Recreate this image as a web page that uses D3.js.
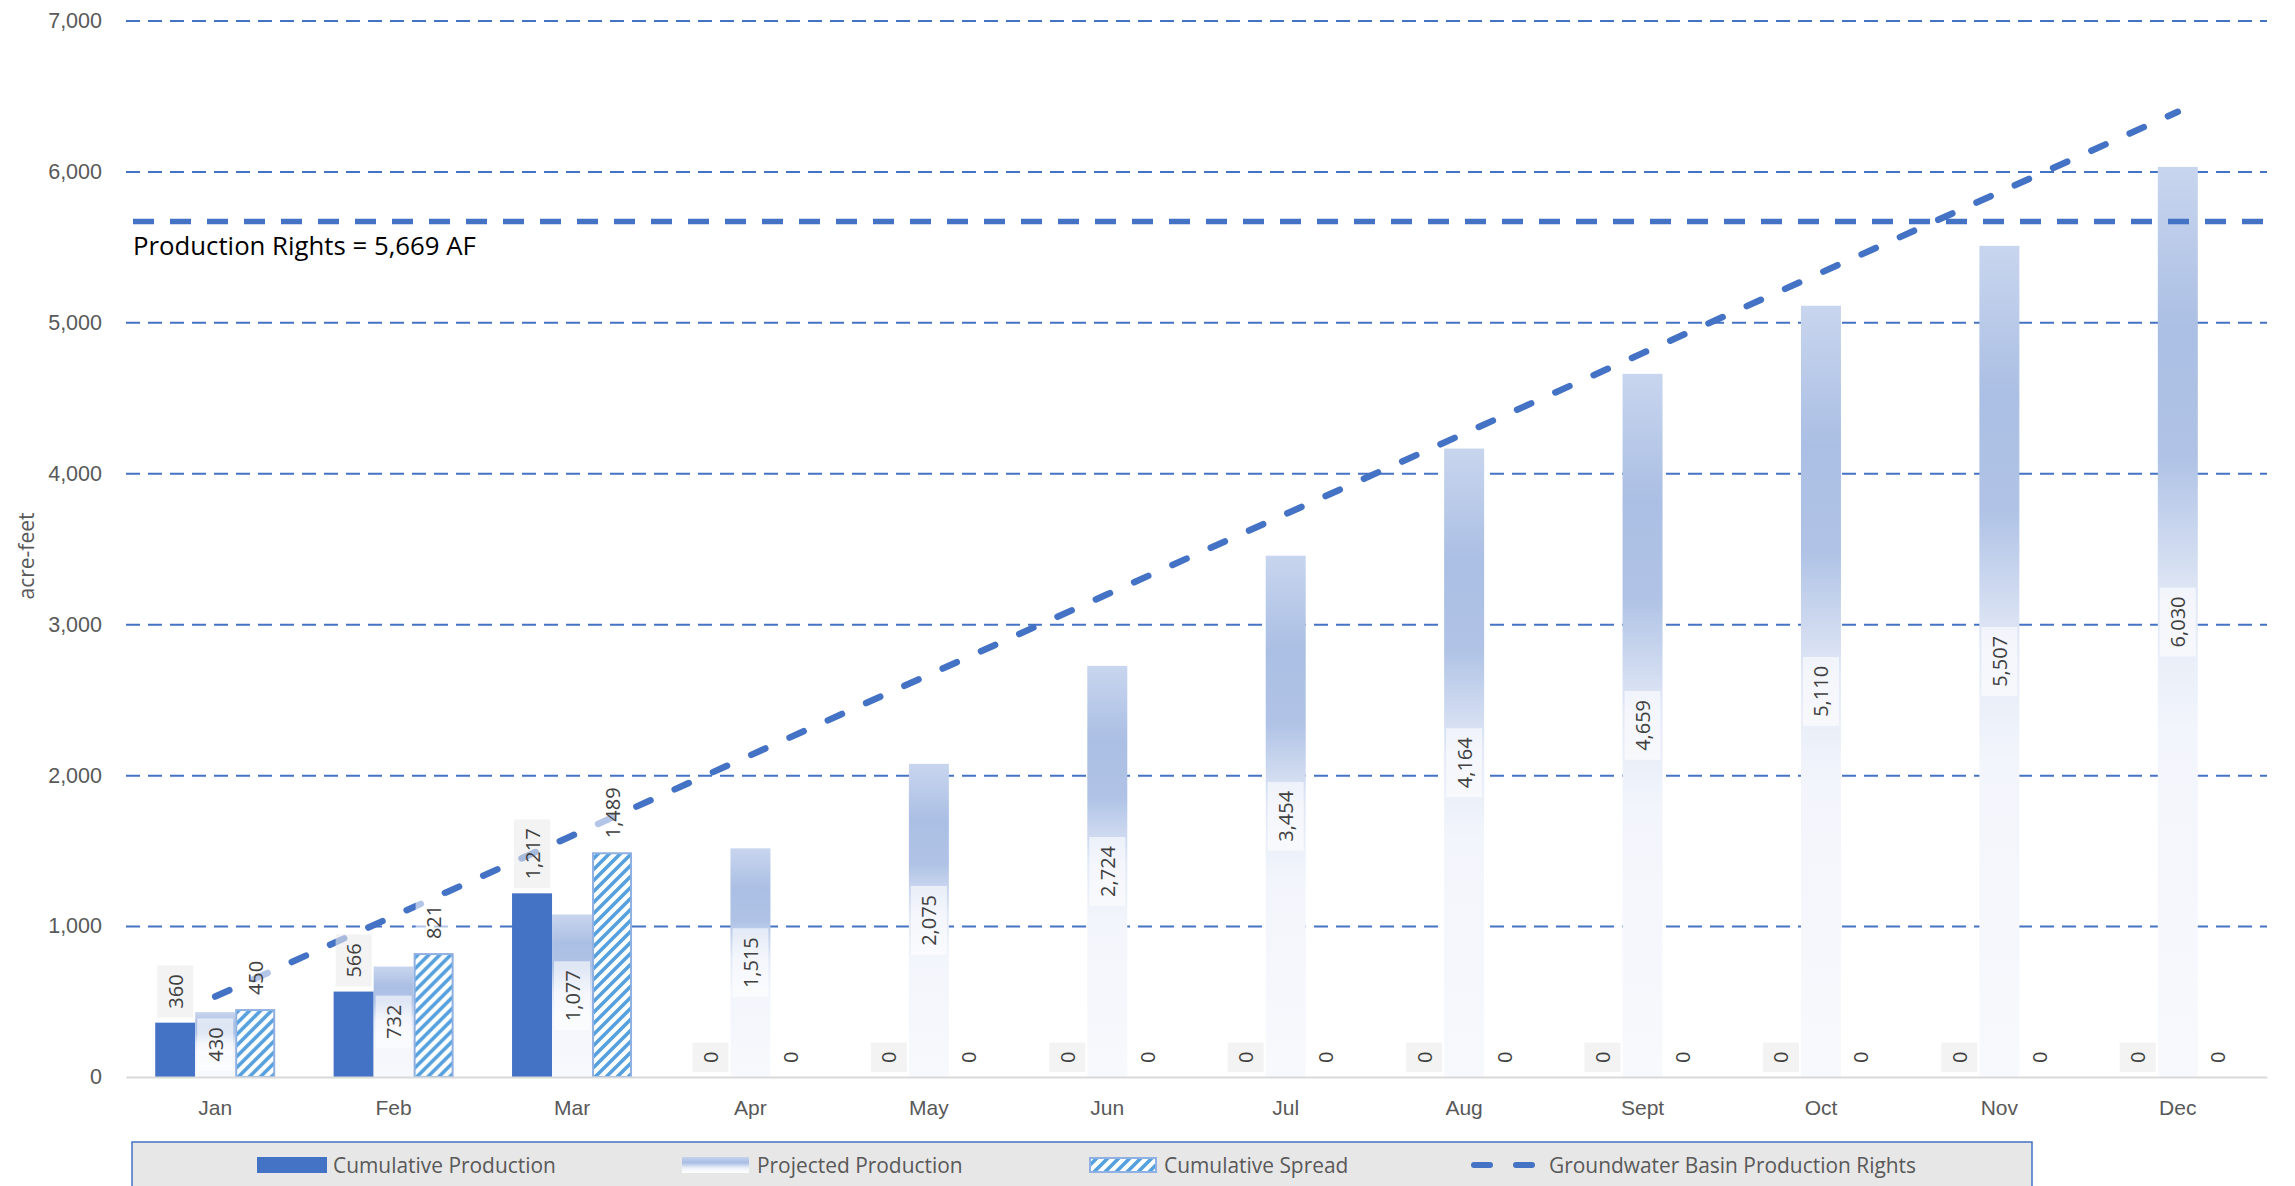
<!DOCTYPE html>
<html>
<head>
<meta charset="utf-8">
<script src="https://cdn.jsdelivr.net/npm/d3@7"></script>
<style>
  html, body { margin: 0; padding: 0; background: #ffffff; }
  svg { display: block; font-family: "Open Sans", "Noto Sans", sans-serif; }
</style>
</head>
<body>
<svg id="chart" width="2295" height="1186"></svg>
<script>
// ---------------- data ----------------
const months = ["Jan", "Feb", "Mar", "Apr", "May", "Jun", "Jul", "Aug", "Sept", "Oct", "Nov", "Dec"];
const cumulativeProduction = [360, 566, 1217, 0, 0, 0, 0, 0, 0, 0, 0, 0];
const projectedProduction = [430, 732, 1077, 1515, 2075, 2724, 3454, 4164, 4659, 5110, 5507, 6030];
const cumulativeSpread = [450, 821, 1489, 0, 0, 0, 0, 0, 0, 0, 0, 0];
const basinRights = [533, 1066, 1599, 2132, 2665, 3198, 3730, 4263, 4796, 5329, 5862, 6395];
const productionRights = 5669;
const yTicks = [0, 1000, 2000, 3000, 4000, 5000, 6000, 7000];
const seriesKeys = ["cumulative", "projected", "spread"];
const legendLabels = ["Cumulative Production", "Projected Production", "Cumulative Spread", "Groundwater Basin Production Rights"];
const yTitle = "acre-feet";
const rightsLabel = "Production Rights = 5,669 AF";

// ---------------- layout ----------------
const svg = d3.select("#chart");
const plotL = 126, plotR = 2267, plotT = 20.5, plotB = 1077;
const blue = "#4472c4";
const fmt = d3.format(",");

const x = d3.scaleBand().domain(months).range([plotL, plotR]).paddingInner(0).paddingOuter(0);
const x1 = d3.scaleBand().domain(seriesKeys).range([-60, 60]);
const y = d3.scaleLinear().domain([0, 7000]).range([plotB, plotT]);
const cx = m => x(m) + x.bandwidth() / 2;

const rows = months.map((m, i) => ({
  month: m,
  cumulative: cumulativeProduction[i],
  projected: projectedProduction[i],
  spread: cumulativeSpread[i],
  rights: basinRights[i]
}));

// ---------------- defs ----------------
const defs = svg.append("defs");
const grad = defs.append("linearGradient").attr("id", "projGrad")
  .attr("x1", 0).attr("y1", 0).attr("x2", 0).attr("y2", 1);
[[0, "#c8d5ee"], [0.18, "#abbfe4"], [0.32, "#b0c3e6"], [0.48, "#e3e9f6"], [0.62, "#f2f5fb"], [1, "#f8f9fd"]]
  .forEach(([o, c]) => grad.append("stop").attr("offset", o).attr("stop-color", c));

const lgGrad = defs.append("linearGradient").attr("id", "legGrad")
  .attr("x1", 0).attr("y1", 0).attr("x2", 0).attr("y2", 1);
[[0, "#c5d3ed"], [0.35, "#a9bde3"], [0.7, "#eef2fa"], [1, "#ffffff"]]
  .forEach(([o, c]) => lgGrad.append("stop").attr("offset", o).attr("stop-color", c));

const pat = defs.append("pattern").attr("id", "hatch").attr("patternUnits", "userSpaceOnUse")
  .attr("width", 11).attr("height", 11);
pat.append("rect").attr("width", 11).attr("height", 11).attr("fill", "#ffffff");
pat.append("path").attr("d", "M-2,2 L2,-2 M0,11 L11,0 M9,13 L13,9")
  .attr("stroke", "#55a0de").attr("stroke-width", 3.6);

// ---------------- gridlines + y axis ----------------
const yAxis = d3.axisLeft(y).tickValues(yTicks).tickFormat(fmt)
  .tickSizeInner(-(plotR - plotL)).tickSizeOuter(0).tickPadding(24);
const gy = svg.append("g").attr("transform", `translate(${plotL},0)`).call(yAxis);
gy.select(".domain").remove();
gy.selectAll(".tick line")
  .attr("stroke", blue).attr("stroke-width", 2).attr("stroke-dasharray", "14,8")
  .attr("opacity", d => d === 0 ? 0 : 1);
gy.selectAll(".tick text").attr("fill", "#595959").style("font-size", "21.5px");

// y title
svg.append("text")
  .attr("transform", `translate(26,556) rotate(-90)`)
  .attr("text-anchor", "middle").attr("dominant-baseline", "central")
  .attr("fill", "#595959").style("font-size", "21px").text(yTitle);

// ---------------- bars ----------------
const gBars = svg.append("g");
const groups = gBars.selectAll("g.m").data(rows).join("g").attr("class", "m")
  .attr("transform", d => `translate(${cx(d.month)},0)`);

groups.append("rect")
  .attr("x", x1("cumulative")).attr("width", x1.bandwidth())
  .attr("y", d => y(d.cumulative)).attr("height", d => y(0) - y(d.cumulative))
  .attr("fill", blue);

groups.append("rect")
  .attr("x", x1("projected")).attr("width", x1.bandwidth())
  .attr("y", d => y(d.projected)).attr("height", d => y(0) - y(d.projected))
  .attr("fill", "url(#projGrad)");

groups.filter(d => d.spread > 0).append("rect")
  .attr("x", x1("spread") + 1).attr("width", x1.bandwidth() - 2)
  .attr("y", d => y(d.spread) + 1).attr("height", d => y(0) - y(d.spread) - 1)
  .attr("fill", "url(#hatch)").attr("stroke", "#8fb0e2").attr("stroke-width", 2);

// ---------------- x axis ----------------
const xAxis = d3.axisBottom(x).tickSize(0).tickPadding(23);
const gx = svg.append("g").attr("transform", `translate(0,${plotB})`).call(xAxis);
gx.select(".domain").attr("stroke", "#d9d9d9").attr("stroke-width", 2);
gx.selectAll(".tick text").attr("fill", "#595959").style("font-size", "21px");

// ---------------- production rights horizontal line ----------------
svg.append("line")
  .attr("x1", 133).attr("x2", 2278)
  .attr("y1", y(productionRights)).attr("y2", y(productionRights))
  .attr("stroke", blue).attr("stroke-width", 5.5).attr("stroke-dasharray", "21,16");

const rl = svg.append("text").attr("x", 133).attr("y", y(productionRights) + 34)
  .attr("fill", "#000000").style("font-size", "23px").text(rightsLabel);
{
  const len = rl.node().getComputedTextLength();
  rl.style("font-size", (23 * 343 / len).toFixed(2) + "px");
}

// ---------------- basin rights line ----------------
const line = d3.line().x(d => cx(d.month)).y(d => y(d.rights));
svg.append("path").datum(rows).attr("d", line)
  .attr("fill", "none").attr("stroke", blue).attr("stroke-width", 6.5)
  .attr("stroke-linecap", "round").attr("stroke-dasharray", "15.5,26.5");

// ---------------- data labels ----------------
const gLab = svg.append("g").style("font-size", "20px");
function addLabel(mx, value, mode, boxFill, boxOpacity) {
  const g = gLab.append("g");
  const t = g.append("text").attr("text-anchor", "middle").attr("dominant-baseline", "central")
    .attr("fill", "#404040").text(fmt(value));
  const L = t.node().getComputedTextLength();
  const pad = 9, bw = 36, bh = L + 2 * pad;
  let cy;
  if (mode === "end") cy = y(value) - 5 - bh / 2;
  else cy = (y(0) + y(value)) / 2;
  g.attr("transform", `translate(${mx},${cy}) rotate(-90)`);
  g.insert("rect", "text").attr("x", -bh / 2).attr("y", -bw / 2).attr("width", bh).attr("height", bw)
    .attr("fill", boxFill).attr("fill-opacity", boxOpacity);
}
rows.forEach(d => {
  const c = cx(d.month);
  addLabel(c + x1("cumulative") + x1.bandwidth() / 2, d.cumulative, "end", "#ebebeb", 0.6);
  addLabel(c + x1("projected") + x1.bandwidth() / 2, d.projected, "center", "#ffffff", 0.6);
  addLabel(c + x1("spread") + x1.bandwidth() / 2, d.spread, "end", "#ffffff", 0.6);
});

// ---------------- legend ----------------
const lg = svg.append("g");
lg.append("rect").attr("x", 132).attr("y", 1142).attr("width", 1900).attr("height", 70)
  .attr("fill", "#e7e7e7").attr("stroke", blue).attr("stroke-width", 1.5);
const ly = 1165;
lg.append("rect").attr("x", 257).attr("y", ly - 8).attr("width", 70).attr("height", 16).attr("fill", blue);
lg.append("rect").attr("x", 682).attr("y", ly - 8).attr("width", 67).attr("height", 16).attr("fill", "url(#legGrad)");
lg.append("rect").attr("x", 1090).attr("y", ly - 7).attr("width", 66).attr("height", 14)
  .attr("fill", "url(#hatch)").attr("stroke", "#8fb0e2").attr("stroke-width", 2);
lg.append("line").attr("x1", 1474).attr("x2", 1536).attr("y1", ly).attr("y2", ly)
  .attr("stroke", blue).attr("stroke-width", 6).attr("stroke-linecap", "round").attr("stroke-dasharray", "16,26");
const lx = [333, 757, 1164, 1549];
const lt = lg.selectAll("text.leg").data(legendLabels).join("text").attr("class", "leg")
  .attr("x", (d, i) => lx[i]).attr("y", ly).attr("dominant-baseline", "central")
  .attr("fill", "#595959").style("font-size", "20px").text(d => d);
const lastLen = lt.filter((d, i) => i === 3).node().getComputedTextLength();
lt.style("font-size", (20 * 367 / lastLen).toFixed(2) + "px");
</script>
</body>
</html>
